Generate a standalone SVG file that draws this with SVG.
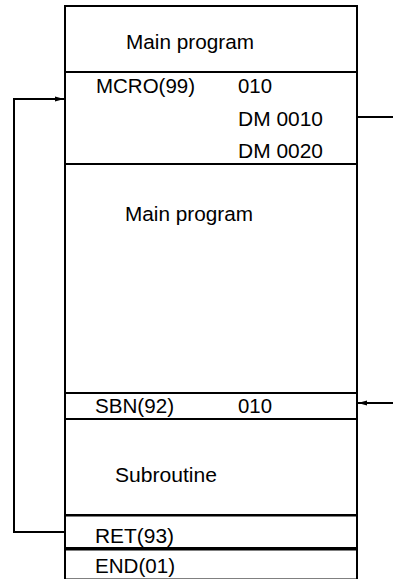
<svg xmlns="http://www.w3.org/2000/svg" width="394" height="579" viewBox="0 0 394 579">
<style>
.b{fill:#fff;stroke:#000;stroke-width:2}
.t{font-family:"Liberation Sans",Arial,sans-serif;font-size:20.5px;fill:#000}
.c{fill:none;stroke:#000;stroke-width:2}
</style>
<defs>
<marker id="ah" markerWidth="10" markerHeight="6" refX="9" refY="3" orient="auto" markerUnits="userSpaceOnUse">
<path d="M0,0.5 L9,3 L0,5.5 Z" fill="#000"/>
</marker>
</defs>
<rect width="394" height="579" fill="#fff"/>
<g id="main1">
<rect class="b" x="65" y="6" width="292" height="66"/>
<text class="t" x="126" y="49" textLength="128" lengthAdjust="spacingAndGlyphs">Main program</text>
</g>
<g id="mcro">
<rect class="b" x="65" y="72" width="292" height="92"/>
<text class="t" x="96" y="93" textLength="99" lengthAdjust="spacingAndGlyphs">MCRO(99)</text>
<text class="t" x="238" y="93" textLength="34" lengthAdjust="spacingAndGlyphs">010</text>
<text class="t" x="238" y="126" textLength="85" lengthAdjust="spacingAndGlyphs">DM 0010</text>
<text class="t" x="238" y="158" textLength="85" lengthAdjust="spacingAndGlyphs">DM 0020</text>
</g>
<g id="main2">
<rect class="b" x="65" y="164" width="292" height="229"/>
<text class="t" x="125" y="221" textLength="128" lengthAdjust="spacingAndGlyphs">Main program</text>
</g>
<g id="sbn">
<rect class="b" x="65" y="393" width="292" height="26"/>
<text class="t" x="95" y="413" textLength="79" lengthAdjust="spacingAndGlyphs">SBN(92)</text>
<text class="t" x="238" y="413" textLength="34" lengthAdjust="spacingAndGlyphs">010</text>
</g>
<g id="sub">
<rect class="b" x="65" y="419" width="292" height="96"/>
<text class="t" x="115" y="482" textLength="102" lengthAdjust="spacingAndGlyphs">Subroutine</text>
</g>
<g id="ret">
<rect class="b" x="65" y="515.5" width="292" height="32.5"/>
<text class="t" x="95" y="543" textLength="79" lengthAdjust="spacingAndGlyphs">RET(93)</text>
</g>
<g id="end">
<rect class="b" x="65" y="549.5" width="292" height="30"/>
<text class="t" x="95" y="573" textLength="80" lengthAdjust="spacingAndGlyphs">END(01)</text>
</g>
<g id="connectors">
<path class="c" d="M65,532 H14 V99 H64" marker-end="url(#ah)"/>
<path class="c" d="M357,117 H393"/>
<path class="c" d="M393,403 H358" marker-end="url(#ah)"/>
</g>
</svg>
